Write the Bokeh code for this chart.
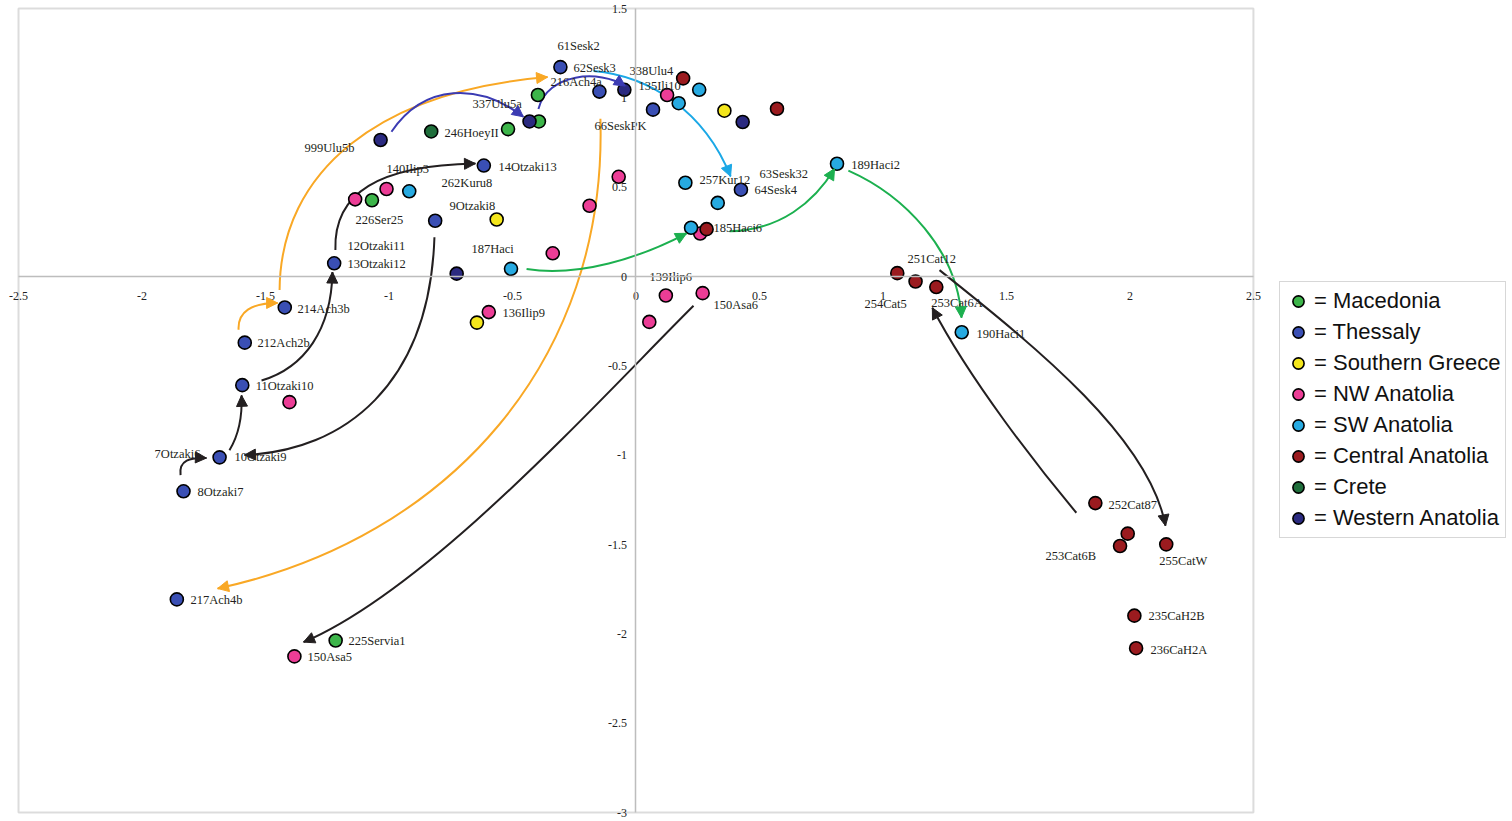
from bokeh.plotting import figure
from bokeh.models import (Range1d, LinearAxis, FixedTicker, BoxAnnotation, Legend,
                          LegendItem, ColumnDataSource, Arrow, NormalHead)
from bokeh.core.properties import value
from bokeh.embed import file_html
from bokeh.resources import INLINE

# ---------------- data ----------------
groups = ["Macedonia", "Thessaly", "Southern Greece", "NW Anatolia",
          "SW Anatolia", "Central Anatolia", "Crete", "Western Anatolia"]
group_colors = ["#3db54a", "#3a4fb4", "#f4e61c", "#ec3d96",
                "#27aae1", "#9b1b1f", "#1f6e3b", "#2b2a80"]

mac_x = [-0.397, -0.518, -0.393, -1.069, -1.216]
mac_y = [1.016, 0.825, 0.868, 0.427, -2.037]

the_x = [-0.306, -0.148, 0.069, -0.616, -0.813, -1.222, -1.422, -1.584, -1.594, -1.686, -1.832, -1.859, 0.425]
the_y = [1.172, 1.035, 0.934, 0.621, 0.312, 0.074, -0.173, -0.370, -0.608, -1.012, -1.202, -1.807, 0.486]

sgr_x = [0.358, -0.564, -0.644]
sgr_y = [0.928, 0.319, -0.258]

nwa_x = [0.126, -0.070, -0.188, -1.137, -1.010, -0.337, 0.260, 0.121, 0.270, 0.054, -0.596, -1.403, -1.383]
nwa_y = [1.016, 0.558, 0.396, 0.432, 0.490, 0.130, 0.241, -0.106, -0.093, -0.254, -0.199, -0.703, -2.126]

swa_x = [0.256, 0.173, -0.918, 0.200, 0.331, 0.814, 0.223, -0.506, 1.319]
swa_y = [1.045, 0.970, 0.477, 0.525, 0.412, 0.631, 0.273, 0.043, -0.312]

cen_x = [0.191, 0.571, 0.286, 1.058, 1.132, 1.216, 1.860, 1.991, 1.960, 2.147, 2.018, 2.025]
cen_y = [1.109, 0.939, 0.265, 0.019, -0.028, -0.059, -1.268, -1.439, -1.508, -1.499, -1.898, -2.080]

cre_x = [-0.829]
cre_y = [0.812]

wan_x = [-1.034, -0.431, -0.047, 0.432, -0.726]
wan_y = [0.764, 0.868, 1.045, 0.865, 0.016]

group_x = [mac_x, the_x, sgr_x, nwa_x, swa_x, cen_x, cre_x, wan_x]
group_y = [mac_y, the_y, sgr_y, nwa_y, swa_y, cen_y, cre_y, wan_y]

# sample labels
lbl_text = ["61Sesk2", "62Sesk3", "216Ach4a", "338Ulu4", "135Ili10", "337Ulu5a", "246HoeyII",
            "999Ulu5b", "66SeskPK", "14Otzaki13", "140Ilip3", "262Kuru8", "9Otzaki8", "226Ser25",
            "12Otzaki11", "13Otzaki12", "187Haci", "257Kur12", "63Sesk32", "64Sesk4", "189Haci2",
            "185Haci6", "251Cat12", "254Cat5", "253Cat6A", "190Haci1", "139Ilip6", "150Asa6",
            "136Ilip9", "214Ach3b", "212Ach2b", "11Otzaki10", "7Otzaki6", "10Otzaki9", "8Otzaki7",
            "217Ach4b", "225Servia1", "150Asa5", "252Cat87", "253Cat6B", "255CatW", "235CaH2B",
            "236CaH2A"]
lbl_x = [-0.318, -0.253, -0.346, -0.026, 0.010, -0.662, -0.775,
         -1.342, -0.168, -0.557, -1.010, -0.787, -0.755, -1.136,
         -1.168, -1.168, -0.666, 0.257, 0.500, 0.480, 0.872,
         0.314, 1.099, 0.925, 1.196, 1.379, 0.055, 0.314,
         -0.540, -1.370, -1.532, -1.540, -1.949, -1.626, -1.775,
         -1.804, -1.164, -1.330, 1.913, 1.658, 2.119, 2.075,
         2.083]
lbl_y = [1.289, 1.166, 1.089, 1.150, 1.066, 0.966, 0.805,
         0.721, 0.844, 0.615, 0.599, 0.526, 0.393, 0.315,
         0.170, 0.070, 0.153, 0.543, 0.576, 0.482, 0.626,
         0.270, 0.097, -0.153, -0.148, -0.320, -0.003, -0.159,
         -0.203, -0.181, -0.370, -0.615, -0.994, -1.011, -1.205,
         -1.812, -2.041, -2.130, -1.278, -1.562, -1.590, -1.901,
         -2.091]

# curved arrows (cubic Bezier: start, control 1, control 2, end)
arr_color = ["#f9a825", "#f9a825", "#f9a825", "#3b3bb3", "#3b3bb3", "#1ba8e6",
             "#1cb04f", "#1cb04f", "#1cb04f", "#231f20", "#231f20", "#231f20",
             "#231f20", "#231f20", "#231f20", "#231f20", "#231f20"]
arr_x0 = [-1.443, -1.609, -0.144, -0.990, -0.395, -0.172, -0.443, 0.379, 0.860,
          -1.217, -1.516, -0.816, -1.844, -1.646, 0.233, 1.229, 1.783]
arr_y0 = [-0.075, -0.298, 0.883, 0.810, 0.938, 1.150, 0.042, 0.253, 0.593,
          0.148, -0.582, 0.220, -1.111, -0.972, -0.164, 0.036, -1.322]
arr_cx0 = [-1.439, -1.613, -0.115, -0.856, -0.358, 0.055, -0.229, 0.581, 1.087,
           -1.225, -1.342, -0.836, -1.852, -1.609, -0.148, 1.634, 1.634]
arr_cy0 = [0.593, -0.198, -0.465, 1.083, 1.139, 1.122, -0.003, 0.259, 0.454,
           0.471, -0.510, -0.604, -1.027, -0.888, -0.688, -0.409, -1.077]
arr_cx1 = [-1.039, -1.557, -0.755, -0.634, -0.148, 0.277, 0.014, 0.723, 1.302,
           -1.039, -1.233, -1.180, -1.804, -1.593, -0.836, 2.079, 1.350]
arr_cy1 = [1.038, -0.148, -1.467, 1.083, 1.161, 0.927, 0.103, 0.415, 0.148,
           0.621, -0.298, -0.977, -1.011, -0.799, -1.746, -0.910, -0.576]
arr_x1 = [-0.358, -1.451, -1.694, -0.456, -0.043, 0.383, 0.205, 0.804, 1.318,
          -0.650, -1.229, -1.585, -1.739, -1.597, -1.346, 2.144, 1.200]
arr_y1 = [1.116, -0.148, -1.746, 0.894, 1.066, 0.560, 0.242, 0.604, -0.231,
          0.632, 0.025, -0.999, -1.016, -0.665, -2.046, -1.395, -0.175]

x_ticks = [-2.5, -2, -1.5, -1, -0.5, 0, 0.5, 1, 1.5, 2, 2.5]
x_tick_labels = ["-2.5", "-2", "-1.5", "-1", "-0.5", "0", "0.5", "1", "1.5", "2", "2.5"]
y_ticks = [-3, -2.5, -2, -1.5, -1, -0.5, 0, 0.5, 1, 1.5]
y_tick_labels = ["-3", "-2.5", "-2", "-1.5", "-1", "-0.5", "0", "0.5", "1", "1.5"]

# ---------------- figure ----------------
p = figure(width=1512, height=821, x_range=Range1d(-2.573, 3.549), y_range=Range1d(-3.050, 1.5448),
           output_backend="svg", toolbar_location=None, x_axis_type=None, y_axis_type=None,
           min_border_left=0, min_border_right=0, min_border_top=0, min_border_bottom=0)
p.outline_line_color = None
p.xgrid.visible = False
p.ygrid.visible = False

axis_style = dict(axis_line_color="#bdbdbd", axis_line_width=1.5,
                  major_tick_in=0, major_tick_out=0, minor_tick_line_color=None,
                  major_label_text_font="Liberation Serif", major_label_text_font_size="12px",
                  major_label_text_color="#222222")
xaxis = LinearAxis(fixed_location=0, bounds=(-2.5, 2.5), ticker=FixedTicker(ticks=x_ticks),
                   major_label_overrides={t: s for t, s in zip(x_ticks, x_tick_labels)},
                   major_label_standoff=15, **axis_style)
yaxis = LinearAxis(fixed_location=0, bounds=(-3, 1.5), ticker=FixedTicker(ticks=y_ticks),
                   major_label_overrides={t: s for t, s in zip(y_ticks, y_tick_labels)},
                   major_label_standoff=9, **axis_style)
p.add_layout(xaxis, "below")
p.add_layout(yaxis, "left")

# plot-area border
p.add_layout(BoxAnnotation(left=-2.5, right=2.5, bottom=-3, top=1.5, fill_alpha=0,
                           line_color="#8a8a8a", line_width=2, level="underlay"))

# arrows
arr_src = ColumnDataSource(dict(x0=arr_x0, y0=arr_y0, x1=arr_x1, y1=arr_y1,
                                cx0=arr_cx0, cy0=arr_cy0, cx1=arr_cx1, cy1=arr_cy1,
                                color=arr_color))
p.bezier(x0="x0", y0="y0", x1="x1", y1="y1", cx0="cx0", cy0="cy0", cx1="cx1", cy1="cy1",
         line_color="color", line_width=2, source=arr_src)
for i in range(len(arr_color)):
    c = arr_color[i]
    p.add_layout(Arrow(end=NormalHead(size=11, fill_color=c, line_color=c, line_width=1),
                       x_start=arr_cx1[i], y_start=arr_cy1[i], x_end=arr_x1[i], y_end=arr_y1[i],
                       line_alpha=0))

# points
items = []
for name, col, xs, ys in zip(groups, group_colors, group_x, group_y):
    r = p.scatter(xs, ys, size=13, fill_color=col, line_color="black", line_width=1.6)
    items.append(LegendItem(label="= " + name, renderers=[r]))

# labels
lbl_src = ColumnDataSource(dict(x=lbl_x, y=lbl_y, t=lbl_text))
p.text(x="x", y="y", text="t", source=lbl_src, text_font=value("Liberation Serif"),
       text_font_size="12.5px", text_baseline="middle", text_align="left", text_color="#231f20")

legend = Legend(items=items, location=(1279, 283), margin=0, padding=4, spacing=1,
                glyph_width=28, glyph_height=30, label_height=30, label_standoff=2,
                label_text_font="Liberation Sans", label_text_font_size="22px",
                label_text_color="#111111", border_line_color="#b0b0b0", border_line_width=1,
                background_fill_color="white", background_fill_alpha=1)
p.add_layout(legend)

open("out.html", "w").write(file_html(p, INLINE))
